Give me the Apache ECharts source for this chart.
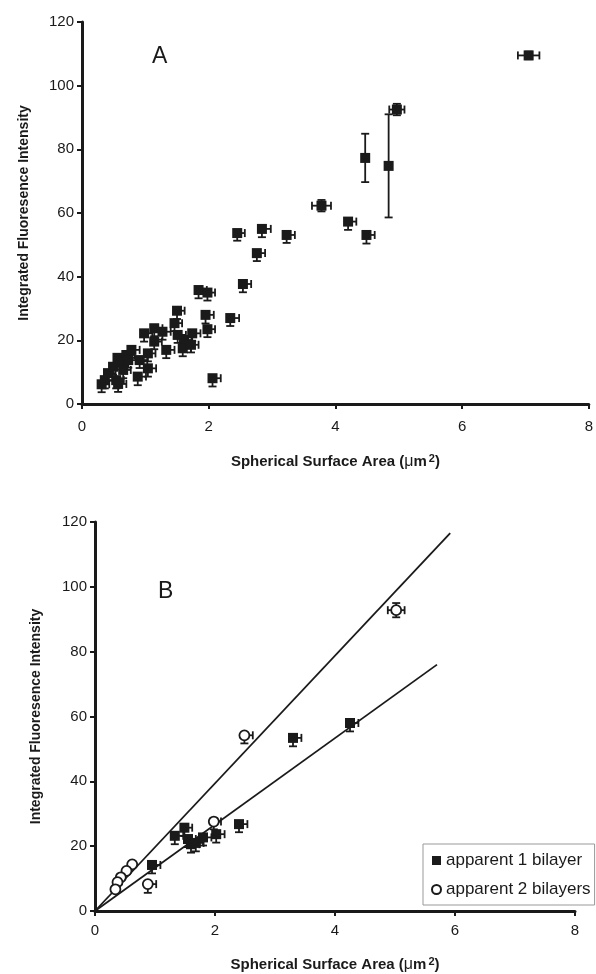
<!DOCTYPE html>
<html><head><meta charset="utf-8">
<script src="https://cdn.jsdelivr.net/npm/echarts@6/dist/echarts.min.js"></script>
<style>html,body{margin:0;padding:0;background:#fff}#c{width:596px;height:974px}</style>
</head><body><div id="c"></div>
<script>
// ---------- Panel A data ----------
const aX  = [0.31,0.36,0.41,0.49,0.54,0.57,0.56,0.60,0.65,0.70,0.73,0.78,0.88,0.91,0.98,1.04,1.04,1.14,1.14,1.27,1.33,1.46,1.50,1.51,1.61,1.59,1.72,1.74,1.84,1.98,1.95,1.98,2.06,2.34,2.45,2.54,2.76,2.84,3.23,4.20,4.49];
const aY  = [6.2,7.5,9.7,11.7,7.5,6.3,14.5,13.3,10.7,15.4,13.8,17.0,8.6,13.8,22.2,15.9,11.2,23.8,19.6,22.7,17.0,25.4,29.3,21.7,20.1,17.5,18.6,22.2,35.8,35.0,28.0,23.5,8.1,27.0,53.7,37.7,47.4,55.0,53.1,57.3,53.1];
const aEx = [0.12,0.13,0.12,0.13,0.12,0.13,0.12,0.13,0.12,0.13,0.12,0.13,0.13,0.12,0.13,0.12,0.13,0.13,0.12,0.13,0.13,0.12,0.12,0.13,0.12,0.13,0.12,0.13,0.13,0.12,0.13,0.12,0.13,0.14,0.12,0.13,0.13,0.14,0.13,0.13,0.13];
const aEy = [2.5,2.6,2.4,2.5,2.6,2.5,2.4,2.5,2.6,2.5,2.4,2.5,2.7,2.5,2.6,2.5,2.6,2.5,2.4,2.5,2.6,2.5,2.6,2.5,2.6,2.5,2.4,2.5,2.6,2.5,2.7,2.5,2.6,2.5,2.4,2.6,2.5,2.6,2.5,2.6,2.7];
// points of panel A with large symmetric error bars
const aBigX  = [4.47,4.84,7.05,3.78,4.97];
const aBigY  = [77.3,74.8,109.5,62.3,92.5];
const aBigEx = [0,0,0.17,0.15,0.12];
const aBigEy = [7.6,16.2,1.2,1.8,1.8];

// ---------- Panel B data ----------
const b1X  = [4.25,3.30,2.40,1.49,1.33,1.55,1.60,1.68,1.80,2.02,0.95];
const b1Y  = [58.0,53.4,26.8,25.7,23.2,22.2,20.6,21.0,22.7,23.7,14.2];
const b1Ex = [0.14,0.14,0.14,0.13,0.14,0.13,0.14,0.13,0.14,0.14,0.14];
const b1Ey = [2.6,2.6,2.5,2.6,2.6,2.5,2.6,2.6,2.5,2.6,2.6];
const b2X  = [2.49,1.98,0.88,0.62,0.525,0.43,0.375,0.34,5.02];
const b2Y  = [54.2,27.6,8.3,14.4,12.4,10.4,8.9,6.7,92.8];
const b2Ex = [0.14,0.12,0.14,0,0,0,0,0,0.14];
const b2Ey = [2.5,2.4,2.7,0,0,0,0,0,2.2];
const bBigIdx = 8; // last hollow point has symmetric bars
const fitUpper = [[0,0],[5.92,116.6]];
const fitLower = [[0,0],[5.70,76.0]];

const xTicks = [0,2,4,6,8];
const yTicks = [0,20,40,60,80,100,120];

const FONT = '"Liberation Sans", Arial, sans-serif';
const INK = '#1a1a1a';

function zip(xs, ys){ return xs.map((x,i)=>[x, ys[i]]); }
function errOneSided(xs, ys, ex, ey){ return xs.map((x,i)=>[x, ys[i], 0, ex[i], ey[i], 0]); }
function errSym(xs, ys, ex, ey){ return xs.map((x,i)=>[x, ys[i], ex[i], ex[i], ey[i], ey[i]]); }

function errItem(params, api){
  const x = api.value(0), y = api.value(1);
  const xl = api.value(2), xr = api.value(3), yd = api.value(4), yu = api.value(5);
  const st = {stroke: INK, lineWidth: 1.8, fill: null};
  const cap = 4;
  const ch = [];
  const line = (a,b)=>ch.push({type:'line', shape:{x1:a[0],y1:a[1],x2:b[0],y2:b[1]}, style:st});
  if (xl>0 || xr>0){
    const pL = api.coord([x-xl, y]), pR = api.coord([x+xr, y]);
    line(pL, pR);
    if (xl>0) line([pL[0], pL[1]-cap],[pL[0], pL[1]+cap]);
    if (xr>0) line([pR[0], pR[1]-cap],[pR[0], pR[1]+cap]);
  }
  if (yd>0 || yu>0){
    const pD = api.coord([x, y-yd]), pU = api.coord([x, y+yu]);
    line(pD, pU);
    if (yd>0) line([pD[0]-cap, pD[1]],[pD[0]+cap, pD[1]]);
    if (yu>0) line([pU[0]-cap, pU[1]],[pU[0]+cap, pU[1]]);
  }
  return {type:'group', children: ch};
}

function xAxisCfg(gi, gap, margin){
  return {
    gridIndex: gi, type:'value', min:0, max:8, interval:2,
    name: '{t|Spherical Surface Area (}{m|μ}{t|m}{s|2}{t|)}',
    nameLocation:'middle', nameGap: gap,
    nameTextStyle:{ rich:{
      t:{fontFamily:FONT, fontWeight:'bold', fontSize:15, color:INK},
      m:{fontFamily:FONT, fontWeight:'normal', fontSize:16, color:INK},
      s:{fontFamily:FONT, fontWeight:'bold', fontSize:11, color:INK, padding:[0,0,7,2]}
    }},
    axisLine:{lineStyle:{color:INK, width:3}},
    axisTick:{show:true, length:5, lineStyle:{color:INK, width:2}},
    axisLabel:{fontFamily:FONT, fontSize:15, color:INK, margin:margin},
    splitLine:{show:false}
  };
}
function yAxisCfg(gi, gap){
  return {
    gridIndex: gi, type:'value', min:0, max:120, interval:20,
    name:'Integrated Fluoresence Intensity', nameLocation:'middle', nameGap: gap, nameRotate:90,
    nameTextStyle:{fontFamily:FONT, fontWeight:'bold', fontSize:14, color:INK},
    axisLine:{lineStyle:{color:INK, width:3}},
    axisTick:{show:true, length:5, lineStyle:{color:INK, width:2}},
    axisLabel:{fontFamily:FONT, fontSize:15, color:INK, margin:8},
    splitLine:{show:false}
  };
}

const chart = echarts.init(document.getElementById('c'), null, {renderer:'canvas'});
chart.setOption({
  animation:false,
  backgroundColor:'#fff',
  title:[
    {text:'A', left:147, top:40, textStyle:{fontFamily:FONT, fontSize:23, fontWeight:'normal', color:INK}},
    {text:'B', left:153, top:575, textStyle:{fontFamily:FONT, fontSize:23, fontWeight:'normal', color:INK}}
  ],
  grid:[
    {left:82, top:22, width:512, height:382},
    {left:95, top:522, width:480, height:390}
  ],
  xAxis:[xAxisCfg(0,49,15), xAxisCfg(1,45,12)],
  yAxis:[yAxisCfg(0,51), yAxisCfg(1,52)],
  legend:{
    data:[{name:'apparent 1 bilayer', icon:'rect'},{name:'apparent 2 bilayers', icon:'circle'}],
    orient:'vertical', left:423, top:844,
    borderColor:'#999', borderWidth:1, padding:[8,4,7,8],
    itemWidth:9, itemHeight:9, itemGap:12,
    textStyle:{fontFamily:FONT, fontSize:17, color:INK}
  },
  series:[
    // Panel A
    {type:'custom', name:'errA', xAxisIndex:0, yAxisIndex:0, renderItem:errItem, encode:{x:0,y:1}, z:1,
      data: errOneSided(aX,aY,aEx,aEy).concat(errSym(aBigX,aBigY,aBigEx,aBigEy))},
    {type:'scatter', name:'A', xAxisIndex:0, yAxisIndex:0, symbol:'rect', symbolSize:10, z:2,
      itemStyle:{color:INK, opacity:1}, data: zip(aX,aY).concat(zip(aBigX,aBigY))},
    // Panel B
    {type:'line', name:'fitU', xAxisIndex:1, yAxisIndex:1, data:fitUpper, symbol:'none', z:1,
      lineStyle:{color:INK, width:1.8}},
    {type:'line', name:'fitL', xAxisIndex:1, yAxisIndex:1, data:fitLower, symbol:'none', z:1,
      lineStyle:{color:INK, width:1.8}},
    {type:'custom', name:'errB', xAxisIndex:1, yAxisIndex:1, renderItem:errItem, encode:{x:0,y:1}, z:1,
      data: errOneSided(b1X,b1Y,b1Ex,b1Ey)
        .concat(errOneSided(b2X.slice(0,bBigIdx), b2Y.slice(0,bBigIdx), b2Ex.slice(0,bBigIdx), b2Ey.slice(0,bBigIdx)))
        .concat(errSym([b2X[bBigIdx]],[b2Y[bBigIdx]],[b2Ex[bBigIdx]],[b2Ey[bBigIdx]]))},
    {type:'scatter', name:'apparent 1 bilayer', xAxisIndex:1, yAxisIndex:1, symbol:'rect', symbolSize:10, z:3,
      itemStyle:{color:INK, opacity:1}, data: zip(b1X,b1Y)},
    {type:'scatter', name:'apparent 2 bilayers', xAxisIndex:1, yAxisIndex:1, symbol:'circle', symbolSize:10, z:3,
      itemStyle:{color:'#fff', borderColor:INK, borderWidth:1.8, opacity:1}, data: zip(b2X,b2Y)}
  ]
});
</script></body></html>
